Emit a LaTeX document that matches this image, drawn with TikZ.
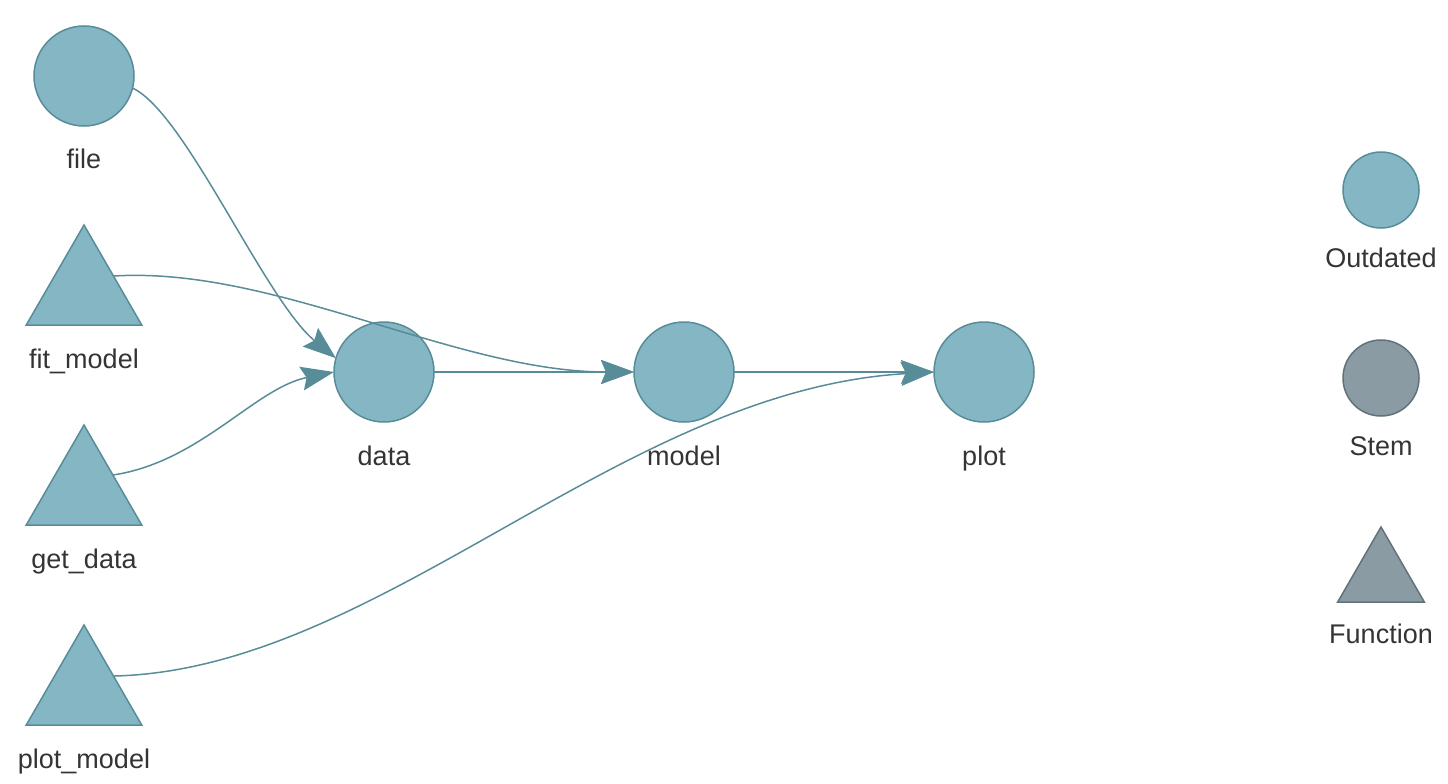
\documentclass[tikz,border=0pt]{standalone}
\usepackage{fontspec}
\setmainfont{Liberation Sans}
\usetikzlibrary{arrows.meta,shapes.geometric}
\definecolor{outfill}{RGB}{133,182,195}
\definecolor{outline}{RGB}{88,140,152}
\definecolor{stemfill}{RGB}{139,155,163}
\definecolor{stemline}{RGB}{98,114,122}
\definecolor{txt}{RGB}{52,52,52}
\tikzset{
  circ/.style={circle,draw=outline,fill=outfill,line width=1.5pt,minimum size=100pt,inner sep=0pt,outer sep=0pt},
  tri/.style={regular polygon,regular polygon sides=3,draw=outline,fill=outfill,line width=1.5pt,minimum size=133.4pt,inner sep=0pt,outer sep=0pt},
  lcirc/.style={circ,minimum size=76pt},
  ltri/.style={tri,minimum size=100pt},
  stem/.style={draw=stemline,fill=stemfill},
  lab/.style={anchor=base,text=txt,font=\fontsize{27}{30}\selectfont,inner sep=0pt},
  edge/.style={draw=outline,line width=1.5pt,-{Stealth[length=33pt,width=24pt,inset=5pt]}}
}
\begin{document}
\begin{tikzpicture}[x=1pt,y=-1pt]
\useasboundingbox (0,0) rectangle (1448,784);
% nodes
\node[circ] (file) at (84,76) {};
\node[lab] (fileL) at (84,168) {file};
\node[tri] (fit) at (84,291.7) {};
\node[lab] (fitL) at (84,368) {fit\_model};
\node[tri] (get) at (84,491.7) {};
\node[lab] (getL) at (84,568) {get\_data};
\node[tri] (pm) at (84,691.7) {};
\node[lab] (pmL) at (84,768) {plot\_model};
\node[circ] (data) at (384,372) {};
\node[lab] (dataL) at (384,465) {data};
\node[circ] (model) at (684,372) {};
\node[lab] (modelL) at (684,465) {model};
\node[circ] (plot) at (984,372) {};
\node[lab] (plotL) at (984,465) {plot};
% legend
\node[lcirc] (lo) at (1381,190) {};
\node[lab] (loL) at (1381,267) {Outdated};
\node[lcirc,stem] (ls) at (1381,378) {};
\node[lab] (lsL) at (1381,455) {Stem};
\node[ltri,stem] (lf) at (1381,577) {};
\node[lab] (lfL) at (1381,643) {Function};
% edges
\draw[edge] (data.east) -- (model.west);
\draw[edge] (model.east) -- (plot.west);
\draw[edge] (file.-14) .. controls (185,112) and (265,300) .. (data.164);
\draw[edge] (fit.28) .. controls (275,266) and (455,372) .. (model.west);
\draw[edge] (get.30) .. controls (200,462) and (255,388) .. (data.west);
\draw[edge] (pm.28) .. controls (380,670) and (620,390) .. (plot.west);
\end{tikzpicture}
\end{document}
